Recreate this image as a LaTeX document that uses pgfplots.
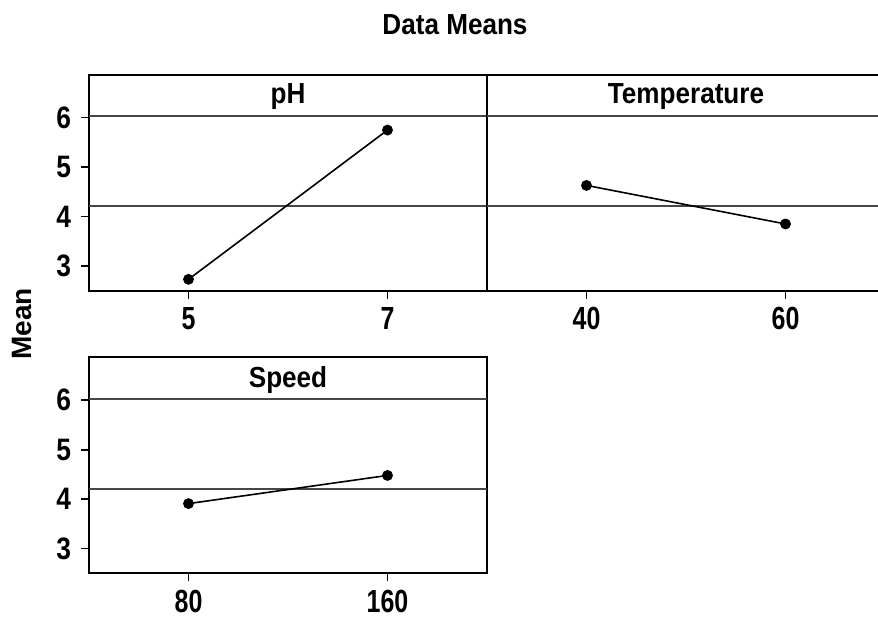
\documentclass[border=0pt]{standalone}
\usepackage{fontspec}
\setmainfont{Liberation Sans}
\newfontfamily\ttlfont[FakeStretch=0.9]{Liberation Sans}
\newfontfamily\xtckfont[FakeStretch=0.78]{Liberation Sans}
\newfontfamily\ytckfont[FakeStretch=0.85]{Liberation Sans}
\usepackage{pgfplots}
\pgfplotsset{compat=1.18}
\definecolor{refgray}{RGB}{70,70,70}

\tikzset{hdr/.style={font=\ttlfont\bfseries\fontsize{14.5}{15}\selectfont}}
\pgfplotsset{
  panel/.style={
    scale only axis, width=199pt, height=108pt,
    xmin=0.5, xmax=2.5, ymin=2.5, ymax=6.87,
    xtick={1,2}, ytick={3,4,5,6},
    axis line style={line width=1pt},
    tick style={black, line width=0.8pt},
    tick align=outside, major tick length=4pt,
    xtick pos=bottom, ytick pos=left,
    /pgf/number format/assume math mode=true,
    xticklabel style={font=\xtckfont\bfseries\fontsize{16}{16}\selectfont, inner ysep=0.5pt, yshift=-3.6pt},
    yticklabel style={font=\ytckfont\bfseries\fontsize{15.5}{16}\selectfont, xshift=-1.5pt},
    clip=false,
  },
  meanline/.style={refgray, line width=0.8pt, no markers},
  eff/.style={black, line width=0.8pt, mark=*, mark size=2.3pt, mark options={fill=black}},
}

\begin{document}
\begin{tikzpicture}
\useasboundingbox (0,0) rectangle (439pt,308pt);
\clip (0,0) rectangle (439pt,308pt);

\node[anchor=base, hdr] at (227.5pt,290.5pt) {Data Means};
\node[rotate=90, font=\bfseries\fontsize{14}{15}\selectfont] at (11pt,146pt) {Mean};

% pH
\begin{axis}[panel, at={(44.5pt,162.65pt)}, anchor=south west, xticklabels={5,7}]
\draw[refgray, line width=0.8pt] (axis cs:0.5,6.03) -- (axis cs:2.5,6.03);
\node[hdr] at (axis cs:1.5,6.42) {pH};
\addplot[meanline] coordinates {(0.5,4.21) (2.5,4.21)};
\addplot[eff] coordinates {(1,2.73) (2,5.75)};
\end{axis}

% Temperature
\begin{axis}[panel, at={(243.5pt,162.65pt)}, anchor=south west, xticklabels={40,60}, ytick=\empty]
\draw[refgray, line width=0.8pt] (axis cs:0.5,6.03) -- (axis cs:2.5,6.03);
\node[hdr] at (axis cs:1.5,6.42) {Temperature};
\addplot[meanline] coordinates {(0.5,4.21) (2.5,4.21)};
\addplot[eff] coordinates {(1,4.63) (2,3.85)};
\end{axis}

% Speed
\begin{axis}[panel, at={(44.5pt,21.35pt)}, anchor=south west, xticklabels={80,160}]
\draw[refgray, line width=0.8pt] (axis cs:0.5,6.03) -- (axis cs:2.5,6.03);
\node[hdr] at (axis cs:1.5,6.42) {Speed};
\addplot[meanline] coordinates {(0.5,4.21) (2.5,4.21)};
\addplot[eff] coordinates {(1,3.91) (2,4.48)};
\end{axis}
\end{tikzpicture}
\end{document}
